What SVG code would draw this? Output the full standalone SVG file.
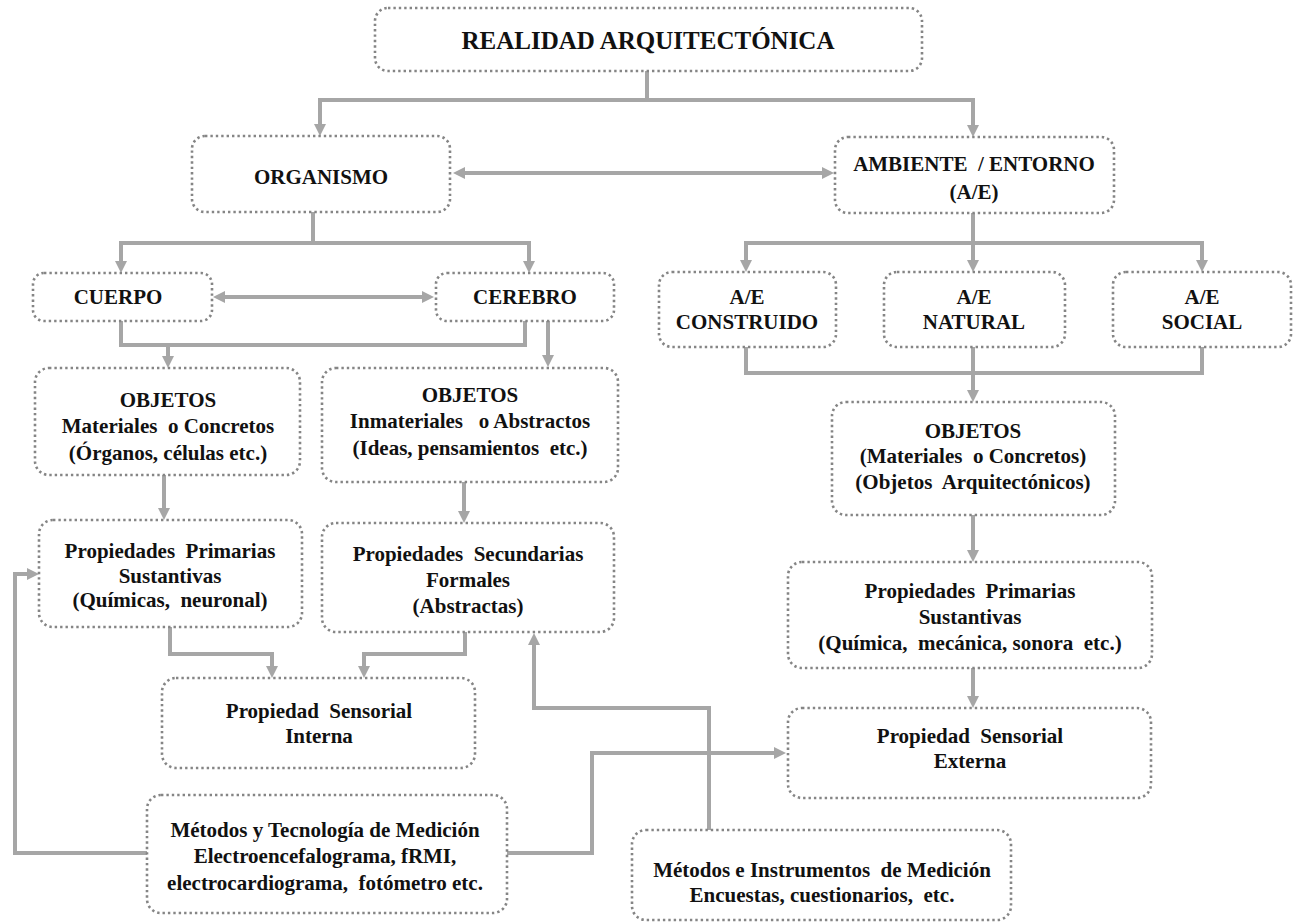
<svg xmlns="http://www.w3.org/2000/svg" width="1294" height="923" viewBox="0 0 1294 923">
  <style>
    .box { fill: #ffffff; stroke: #858585; stroke-width: 2.6; stroke-dasharray: 2.4 3; }
    .t { font-family: "Liberation Serif", "DejaVu Serif", serif; font-weight: bold; font-size: 21px; fill: #111111; text-anchor: middle; white-space: pre; }
    .title { font-size: 25px; }
    .c { fill: none; stroke: #a6a6a6; stroke-width: 4; stroke-linejoin: miter; }
  </style>
  <defs>
    <marker id="ah" viewBox="0 0 12 12" refX="1" refY="6" markerWidth="12" markerHeight="12" markerUnits="userSpaceOnUse" orient="auto-start-reverse">
      <path d="M0,0 L12,6 L0,12 z" fill="#a6a6a6"/>
    </marker>
  </defs>

  <!-- connectors -->
  <g id="connectors">
    <path class="c" d="M647,71 V100 H320 V125" marker-end="url(#ah)"/>
    <path class="c" d="M645,100 H973 V126" marker-end="url(#ah)"/>
    <path class="c" d="M464,173 H823" marker-start="url(#ah)" marker-end="url(#ah)"/>

    <path class="c" d="M313,212 V243 H121 V262" marker-end="url(#ah)"/>
    <path class="c" d="M311,243 H529 V262" marker-end="url(#ah)"/>
    <path class="c" d="M224,297 H423" marker-start="url(#ah)" marker-end="url(#ah)"/>

    <path class="c" d="M121,321 V345 H525 V321"/>
    <path class="c" d="M168,345 V357" marker-end="url(#ah)"/>
    <path class="c" d="M548,321 V356" marker-end="url(#ah)"/>

    <path class="c" d="M164,475 V509" marker-end="url(#ah)"/>
    <path class="c" d="M464,482 V512" marker-end="url(#ah)"/>

    <path class="c" d="M170,627 V654 H272 V667" marker-end="url(#ah)"/>
    <path class="c" d="M465,632 V654 H364 V667" marker-end="url(#ah)"/>

    <path class="c" d="M147,853 H15 V574 H28" marker-end="url(#ah)"/>
    <path class="c" d="M507,853 H592 V753 H775" marker-end="url(#ah)"/>
    <path class="c" d="M709,830 V708 H534 V644" marker-end="url(#ah)"/>

    <path class="c" d="M973,213 V243 H746 V261" marker-end="url(#ah)"/>
    <path class="c" d="M973,240 V261" marker-end="url(#ah)"/>
    <path class="c" d="M971,243 H1202 V261" marker-end="url(#ah)"/>

    <path class="c" d="M746,347 V373 H1202 V347"/>
    <path class="c" d="M973,347 V391" marker-end="url(#ah)"/>
    <path class="c" d="M973,515 V551" marker-end="url(#ah)"/>
    <path class="c" d="M973,668 V697" marker-end="url(#ah)"/>
  </g>

  <!-- nodes -->
  <g id="realidad">
    <rect class="box" x="375" y="8" width="547" height="63" rx="13"/>
    <text class="t title" x="648" y="49">REALIDAD ARQUITECTÓNICA</text>
  </g>
  <g id="organismo">
    <rect class="box" x="192" y="136" width="258" height="76" rx="13"/>
    <text class="t" x="321" y="184">ORGANISMO</text>
  </g>
  <g id="ambiente">
    <rect class="box" x="835" y="137" width="279" height="76" rx="13"/>
    <text class="t" x="974" y="171">AMBIENTE  / ENTORNO</text>
    <text class="t" x="974" y="199">(A/E)</text>
  </g>
  <g id="cuerpo">
    <rect class="box" x="33" y="273" width="179" height="48" rx="11"/>
    <text class="t" x="118" y="304">CUERPO</text>
  </g>
  <g id="cerebro">
    <rect class="box" x="436" y="273" width="178" height="48" rx="11"/>
    <text class="t" x="525" y="304">CEREBRO</text>
  </g>
  <g id="ae-construido">
    <rect class="box" x="659" y="272" width="177" height="75" rx="13"/>
    <text class="t" x="747" y="304">A/E</text>
    <text class="t" x="747" y="329">CONSTRUIDO</text>
  </g>
  <g id="ae-natural">
    <rect class="box" x="884" y="272" width="181" height="75" rx="13"/>
    <text class="t" x="974" y="304">A/E</text>
    <text class="t" x="974" y="329">NATURAL</text>
  </g>
  <g id="ae-social">
    <rect class="box" x="1113" y="272" width="178" height="75" rx="13"/>
    <text class="t" x="1202" y="304">A/E</text>
    <text class="t" x="1202" y="329">SOCIAL</text>
  </g>
  <g id="objetos-materiales">
    <rect class="box" x="35" y="368" width="265" height="107" rx="14"/>
    <text class="t" x="168" y="407">OBJETOS</text>
    <text class="t" x="168" y="433">Materiales  o Concretos</text>
    <text class="t" x="168" y="460">(Órganos, células etc.)</text>
  </g>
  <g id="objetos-inmateriales">
    <rect class="box" x="322" y="368" width="296" height="114" rx="14"/>
    <text class="t" x="470" y="402">OBJETOS</text>
    <text class="t" x="470" y="428">Inmateriales   o Abstractos</text>
    <text class="t" x="470" y="455">(Ideas, pensamientos  etc.)</text>
  </g>
  <g id="objetos-arquitectonicos">
    <rect class="box" x="832" y="402" width="283" height="113" rx="14"/>
    <text class="t" x="973" y="438">OBJETOS</text>
    <text class="t" x="973" y="463">(Materiales  o Concretos)</text>
    <text class="t" x="973" y="489">(Objetos  Arquitectónicos)</text>
  </g>
  <g id="primarias-organismo">
    <rect class="box" x="39" y="520" width="263" height="107" rx="14"/>
    <text class="t" x="170" y="558">Propiedades  Primarias</text>
    <text class="t" x="170" y="583">Sustantivas</text>
    <text class="t" x="170" y="607">(Químicas,  neuronal)</text>
  </g>
  <g id="secundarias">
    <rect class="box" x="322" y="523" width="292" height="109" rx="14"/>
    <text class="t" x="468" y="561">Propiedades  Secundarias</text>
    <text class="t" x="468" y="587">Formales</text>
    <text class="t" x="468" y="613">(Abstractas)</text>
  </g>
  <g id="primarias-entorno">
    <rect class="box" x="788" y="562" width="364" height="106" rx="14"/>
    <text class="t" x="970" y="598">Propiedades  Primarias</text>
    <text class="t" x="970" y="624">Sustantivas</text>
    <text class="t" x="970" y="650">(Química,  mecánica, sonora  etc.)</text>
  </g>
  <g id="sensorial-interna">
    <rect class="box" x="162" y="678" width="313" height="90" rx="14"/>
    <text class="t" x="319" y="718">Propiedad  Sensorial</text>
    <text class="t" x="319" y="743">Interna</text>
  </g>
  <g id="sensorial-externa">
    <rect class="box" x="788" y="708" width="363" height="90" rx="14"/>
    <text class="t" x="970" y="743">Propiedad  Sensorial</text>
    <text class="t" x="970" y="768">Externa</text>
  </g>
  <g id="metodos-tecnologia">
    <rect class="box" x="147" y="795" width="360" height="118" rx="14"/>
    <text class="t" x="325" y="837">Métodos y Tecnología de Medición</text>
    <text class="t" x="325" y="863">Electroencefalograma, fRMI,</text>
    <text class="t" x="325" y="890">electrocardiograma,  fotómetro etc.</text>
  </g>
  <g id="metodos-instrumentos">
    <rect class="box" x="632" y="830" width="379" height="90" rx="14"/>
    <text class="t" x="822" y="877">Métodos e Instrumentos  de Medición</text>
    <text class="t" x="822" y="902">Encuestas, cuestionarios,  etc.</text>
  </g>
</svg>
